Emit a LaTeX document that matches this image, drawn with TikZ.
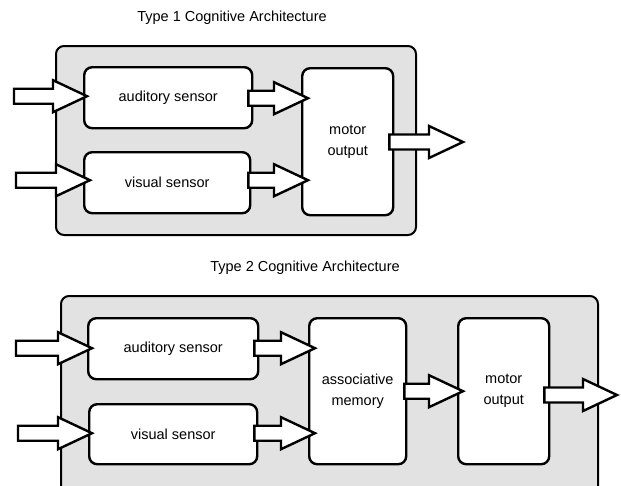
\documentclass[tikz,border=0pt]{standalone}
\usepackage{fontspec}
\setmainfont{Liberation Sans}
\usetikzlibrary{calc}
\definecolor{panelgray}{RGB}{226,226,226}
\tikzset{
  panel/.style={draw, line width=2pt, fill=panelgray, rounded corners=8pt, anchor=north west, inner sep=0pt},
  unit/.style={draw, line width=2.4pt, fill=white, rounded corners=8pt, align=center,
    font=\fontsize{14.5}{21}\selectfont, inner sep=0pt, anchor=north west},
  title/.style={font=\fontsize{14.5}{17}\selectfont},
  fatarrow/.style={draw, line width=2.4pt, fill=white, line join=miter},
}
% hollow block arrow from the x of #1 to the tip #2, horizontal at the tip's height
\newcommand\blockarrow[2]{%
  \draw[fatarrow] let \p1=(#1), \p2=(#2) in
    (\x1,\y2+7.5pt) -- (\x2-34pt,\y2+7.5pt) -- (\x2-34pt,\y2+16pt) -- (\x2,\y2)
    -- (\x2-34pt,\y2-16pt) -- (\x2-34pt,\y2-7.5pt) -- (\x1,\y2-7.5pt) -- cycle;}
\begin{document}
\begin{tikzpicture}[x=1pt,y=-1pt]
  \useasboundingbox (0,0) rectangle (621,485);
  \clip (0,0) rectangle (621,485);

  % ---- Type 1 ----
  \node[title] (t1) at (232,18) {Type 1 Cognitive Architecture};
  \node[panel, minimum width=360, minimum height=189] (p1) at (55,45) {};
  \node[unit, minimum width=168, minimum height=61] (as1) at (83,66) {auditory sensor};
  \node[unit, minimum width=166, minimum height=61] (vs1) at (83,151) {visual sensor};
  \node[unit, minimum width=91, minimum height=147] (mo1) at (301,67) {motor\\output};

  \coordinate (ina1) at (14,95);
  \coordinate (inv1) at (16,179);
  \coordinate (out1) at (463,142);
  \blockarrow{ina1}{$(as1.west)+(4,-1.5)$}
  \blockarrow{inv1}{$(vs1.west)+(7,-2.5)$}
  \blockarrow{$(as1.east)+(-5,0)$}{$(as1.east -| mo1.west)+(7,0.5)$}
  \blockarrow{$(vs1.east)+(-3,0)$}{$(vs1.east -| mo1.west)+(7,-2.5)$}
  \blockarrow{$(mo1.east)+(-5,0)$}{out1}

  % ---- Type 2 ----
  \node[title] (t2) at (305,268) {Type 2 Cognitive Architecture};
  \node[panel, minimum width=537, minimum height=200] (p2) at (60,295) {};
  \node[unit, minimum width=170, minimum height=61] (as2) at (87,317) {auditory sensor};
  \node[unit, minimum width=168, minimum height=60] (vs2) at (88,403) {visual sensor};
  \node[unit, minimum width=97, minimum height=146] (am2) at (308,317) {associative\\memory};
  \node[unit, minimum width=91, minimum height=146] (mo2) at (457,317) {motor\\output};

  \coordinate (ina2) at (16,347);
  \coordinate (inv2) at (18,432);
  \coordinate (out2) at (617,395);
  \blockarrow{ina2}{$(as2.west)+(5,-0.5)$}
  \blockarrow{inv2}{$(vs2.west)+(4,-1)$}
  \blockarrow{$(as2.east)+(-5,0)$}{$(as2.east -| am2.west)+(7,-0.5)$}
  \blockarrow{$(vs2.east)+(-4,0)$}{$(vs2.east -| am2.west)+(7,-1)$}
  \blockarrow{$(am2.east)+(-3,0)$}{$(am2.east -| mo2.west)+(6,0)$}
  \blockarrow{$(mo2.east)+(-6,0)$}{out2}
\end{tikzpicture}
\end{document}
